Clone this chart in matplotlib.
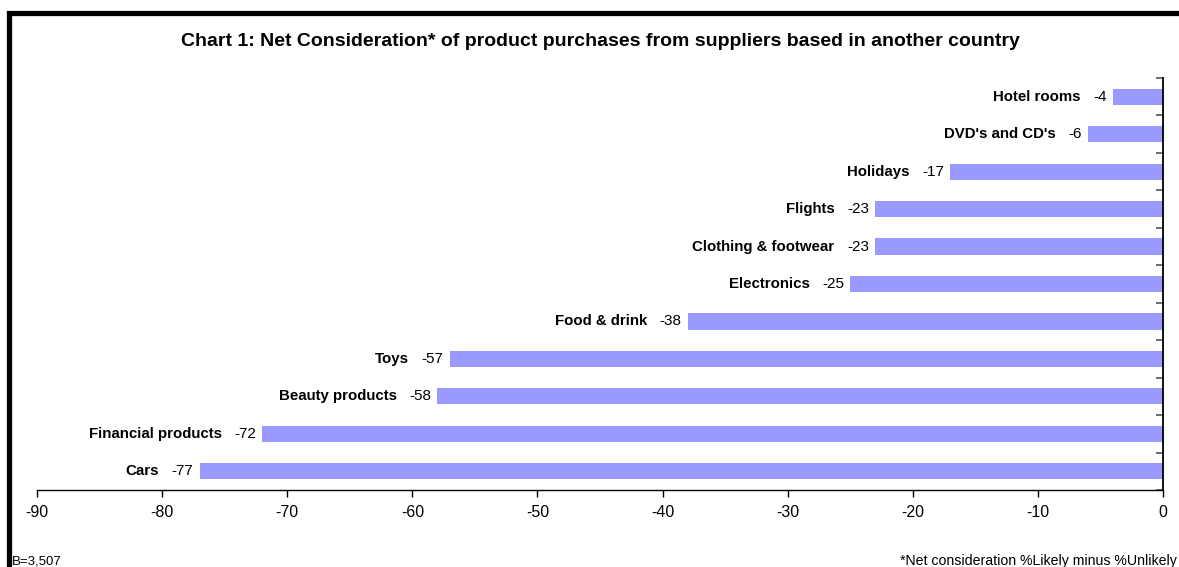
import matplotlib
matplotlib.use("Agg")
import matplotlib.pyplot as plt
from matplotlib.patches import Rectangle
from matplotlib.ticker import MultipleLocator

plt.rcParams['font.family'] = ['Liberation Sans', 'DejaVu Sans']

categories = ["Cars", "Financial products", "Beauty products", "Toys", "Food & drink",
              "Electronics", "Clothing & footwear", "Flights", "Holidays",
              "DVD's and CD's", "Hotel rooms"]
values = [-77, -72, -58, -57, -38, -25, -23, -23, -17, -6, -4]
xticks = list(range(-90, 1, 10))

W, H = 1179, 567
fig = plt.figure(figsize=(W / 100, H / 100), dpi=100)

# outer chart frame (right/bottom edges run off the canvas)
fig.patches.append(Rectangle((8.5 / W, -0.1), 1.2, 1 - 12.5 / H + 0.1,
                             transform=fig.transFigure, fill=False,
                             edgecolor='black', linewidth=3.8, zorder=0))

ax = fig.add_axes([37 / W, 1 - 490 / H, (1163 - 37) / W, (490 - 78) / H])

y = list(range(len(categories)))
ax.barh(y, values, height=0.43, color='#9999FF', edgecolor='none', zorder=2)

ax.set_xlim(-90, 0)
ax.set_ylim(-0.5, len(categories) - 0.5)
ax.set_xticks(xticks)
ax.set_xticklabels([str(t) for t in xticks], fontsize=11.5)
ax.tick_params(axis='x', direction='out', length=5, width=1, pad=6, colors='black')

# category separators on the right-hand axis line
ax.yaxis.set_ticks_position('right')
ax.set_yticks([])
ax.yaxis.set_minor_locator(MultipleLocator(1))
ax.set_yticks([i - 0.5 for i in range(len(categories) + 1)], minor=True)
ax.tick_params(axis='y', which='minor', direction='in', length=5, width=1.2,
               color='#555555')

for s in ['left', 'top']:
    ax.spines[s].set_visible(False)
ax.spines['right'].set_linewidth(1.3)
ax.spines['bottom'].set_linewidth(1.0)

fig.canvas.draw()
renderer = fig.canvas.get_renderer()
for yi, (cat, v) in enumerate(zip(categories, values)):
    vt = ax.annotate(str(v), xy=(v, yi), xytext=(-4.5, 0), textcoords='offset points',
                     ha='right', va='center', fontsize=11)
    bb = vt.get_window_extent(renderer=renderer)
    w_pt = bb.width * 72 / fig.dpi
    ax.annotate(cat, xy=(v, yi), xytext=(-4.5 - w_pt - 9, 0), textcoords='offset points',
                ha='right', va='center', fontsize=10.8, fontweight='bold')

fig.text(600 / W, 1 - 41 / H,
         "Chart 1: Net Consideration* of product purchases from suppliers based in another country",
         ha='center', va='center', fontsize=14, fontweight='bold')
fig.text(12 / W, 1 - 561 / H, "B=3,507", ha='left', va='center', fontsize=9.5)
fig.text(1177 / W, 1 - 561 / H, "*Net consideration %Likely minus %Unlikely",
         ha='right', va='center', fontsize=10.2)

fig.savefig("out.png", dpi=100)
